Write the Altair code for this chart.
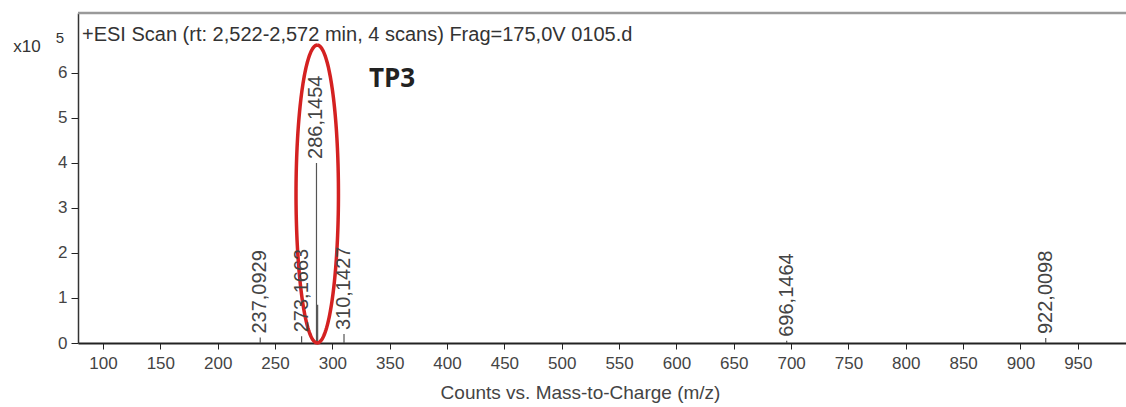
import altair as alt
import numpy as np
import pandas as pd

# Centroided peaks of the spectrum (intensity in units of 10^5 counts)
peak_mz = [237.0929, 273.1663, 286.1454, 287.1487, 310.1427, 696.1464, 922.0098]
peak_int = [0.12, 0.15, 4.00, 0.85, 0.20, 0.05, 0.11]
peak_lab = ["237,0929", "273,1663", "286,1454", "", "310,1427", "696,1464", "922,0098"]

x_ticks = list(range(100, 1000, 50))
y_ticks = [0, 1, 2, 3, 4, 5, 6]

header = "+ESI Scan (rt: 2,522-2,572 min, 4 scans) Frag=175,0V 0105.d"
compound = "TP3"

# Highlight ellipse around the main ion (centre / half-axes in data units)
ell_cx, ell_cy, ell_rx, ell_ry = 286.8, 3.31, 18.5, 3.31

X_DOM = [78.2, 992.0]
Y_DOM = [0, 7.333]
W, H = 1048, 330
FONT = "Liberation Sans"

peaks = pd.DataFrame({"mz": peak_mz, "int": peak_int, "label": peak_lab})
labels = peaks[peaks["label"] != ""]

t = np.linspace(0, 2 * np.pi, 181)
ellipse = pd.DataFrame({
    "i": np.arange(len(t)),
    "mz": ell_cx + ell_rx * np.sin(t),
    "int": ell_cy + ell_ry * np.cos(t),
})

xs = alt.Scale(domain=X_DOM, nice=False, zero=False)
ys = alt.Scale(domain=Y_DOM, nice=False)

x_axis = alt.Axis(
    values=x_ticks, title="Counts vs. Mass-to-Charge (m/z)", grid=False,
    labelFontSize=17, labelColor="#444", labelFont=FONT, labelPadding=6,
    tickSize=6, tickColor="#222", domainColor="#222", domainWidth=2,
    titleFont=FONT, titleFontSize=19, titleFontWeight="normal", titleColor="#444",
    titlePadding=12, titleX=502, titleAnchor="middle", labelFlush=False,
)
y_axis = alt.Axis(
    values=y_ticks, title=None, grid=False, format="d",
    labelFontSize=17, labelColor="#444", labelFont=FONT, labelPadding=4,
    tickSize=7, tickColor="#222", domainColor="#333", domainWidth=1.5,
)

sticks = alt.Chart(peaks).mark_rule(color="#555", strokeWidth=1.2).encode(
    x=alt.X("mz:Q", scale=xs, axis=x_axis),
    y=alt.Y("int:Q", scale=ys, axis=y_axis),
    y2=alt.datum(0),
)

peak_text = alt.Chart(labels).mark_text(
    angle=270, align="left", baseline="middle", dx=4,
    font=FONT, fontSize=20, color="#444",
).encode(x=alt.X("mz:Q", scale=xs), y=alt.Y("int:Q", scale=ys), text="label:N")

ring = alt.Chart(ellipse).mark_line(color="#d42121", strokeWidth=3.5).encode(
    x=alt.X("mz:Q", scale=xs), y=alt.Y("int:Q", scale=ys), order="i:Q"
)

top_frame = alt.Chart(pd.DataFrame({"v": [Y_DOM[1]]})).mark_rule(
    color="#9a9a9a", strokeWidth=2.5
).encode(y=alt.Y("v:Q", scale=ys), x=alt.value(0), x2=alt.value(W))

head = alt.Chart(pd.DataFrame({"t": [header]})).mark_text(
    align="left", baseline="middle", font=FONT, fontSize=20, color="#333"
).encode(text="t:N", x=alt.value(4), y=alt.value(22))

tp3 = alt.Chart(pd.DataFrame({"t": [compound], "mz": [352.0], "int": [5.87]})).mark_text(
    align="center", baseline="middle", font="Open Sans", fontSize=26,
    fontWeight="bold", color="#222"
).encode(text="t:N", x=alt.X("mz:Q", scale=xs), y=alt.Y("int:Q", scale=ys))

exp_base = alt.Chart(pd.DataFrame({"t": ["x10"]})).mark_text(
    align="center", baseline="middle", font=FONT, fontSize=17, color="#333"
).encode(text="t:N", x=alt.value(-51), y=alt.value(34))

exp_pow = alt.Chart(pd.DataFrame({"t": ["5"]})).mark_text(
    align="center", baseline="middle", font=FONT, fontSize=15, color="#333"
).encode(text="t:N", x=alt.value(-18), y=alt.value(25))

chart = alt.layer(
    top_frame, sticks, ring, peak_text, head, tp3, exp_base, exp_pow
).properties(
    width=W, height=H,
    autosize=alt.AutoSizeParams(type="none"),
    padding={"left": 78, "top": 13, "right": 0, "bottom": 64},
    background="white",
).configure_view(stroke=None)

chart.save("out.html", embed_options={"renderer": "svg", "actions": False})
